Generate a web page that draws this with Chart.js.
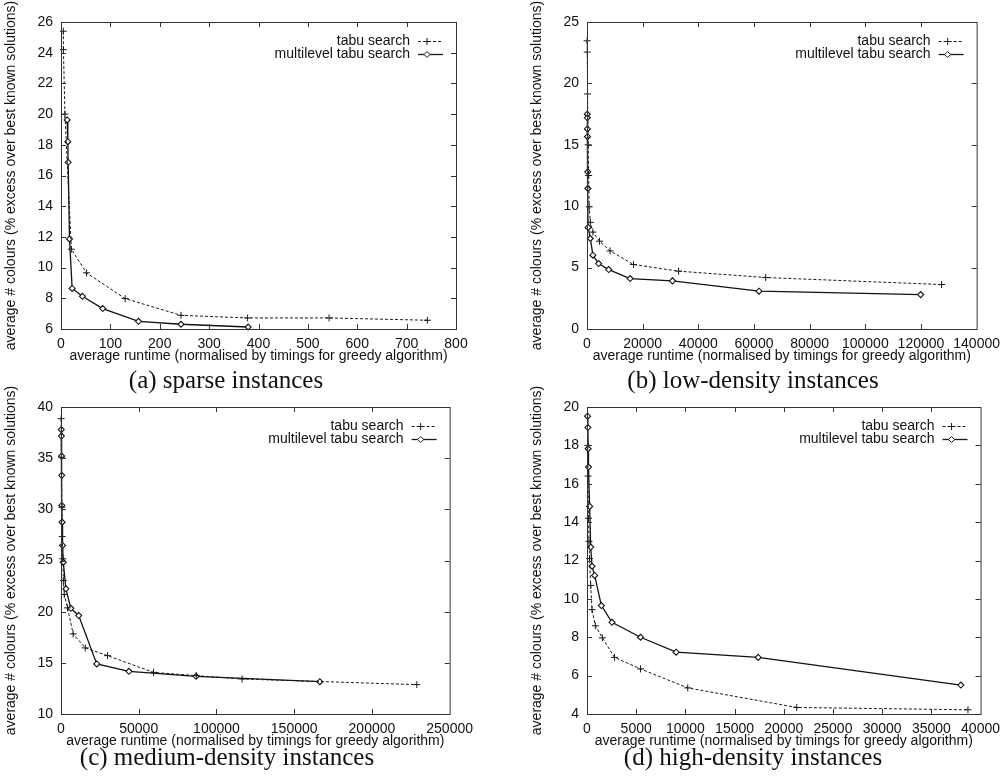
<!DOCTYPE html>
<html lang="en">
<head>
  <meta charset="utf-8">
  <title>Tabu search vs multilevel tabu search</title>
  <script src="https://cdn.jsdelivr.net/npm/chart.js"></script>
  <style>
    body { margin: 0; background: #fff; }
    #page { position: relative; width: 1007px; height: 783px; overflow: hidden; }
    .panel { position: absolute; }
    .caption {
      position: absolute; width: 400px; text-align: center;
      font-family: "Liberation Serif", serif; font-size: 25px; line-height: 25px;
      color: #111; white-space: nowrap;
    }
  </style>
</head>
<body>
<div id="page">
  <canvas id="chartA" class="panel" width="480" height="370" style="left:0;top:0"></canvas>
  <canvas id="chartB" class="panel" width="481" height="370" style="left:526px;top:0"></canvas>
  <canvas id="chartC" class="panel" width="480" height="370" style="left:0;top:385px"></canvas>
  <canvas id="chartD" class="panel" width="481" height="370" style="left:526px;top:385px"></canvas>
  <div class="caption" style="left:26px;top:367px">(a) sparse instances</div>
  <div class="caption" style="left:553px;top:367px">(b) low-density instances</div>
  <div class="caption" style="left:27px;top:744px">(c) medium-density instances</div>
  <div class="caption" style="left:553px;top:744px">(d) high-density instances</div>
</div>
<script>
  const seriesNames = ['tabu search', 'multilevel tabu search'];
  const xTitle = 'average runtime (normalised by timings for greedy algorithm)';
  const yTitle = 'average # colours (% excess over best known solutions)';

  // (a) sparse instances
  const sparseTabuX = [4.7, 4.9, 8, 21, 51.5, 130, 243, 378, 543, 742];
  const sparseTabuY = [25.4, 24.2, 20.0, 11.2, 9.66, 7.98, 6.89, 6.72, 6.72, 6.57];
  const sparseMultiX = [12.5, 13.8, 14.5, 17.2, 22.6, 43.4, 84.5, 157, 243, 379];
  const sparseMultiY = [19.62, 18.2, 16.86, 11.87, 8.64, 8.13, 7.33, 6.5, 6.31, 6.13];

  // (b) low-density instances
  const lowTabuX = [50, 100, 200, 400, 600, 800, 1200, 2130, 4500, 8300, 16700, 32900, 64200, 127400];
  const lowTabuY = [23.47, 22.55, 19.14, 15.0, 12.5, 9.95, 8.68, 7.89, 7.15, 6.36, 5.25, 4.71, 4.19, 3.62];
  const lowMultiX = [100, 130, 160, 190, 250, 320, 400, 1200, 2130, 4150, 7800, 15500, 30700, 61800, 119900];
  const lowMultiY = [17.49, 17.2, 16.29, 15.66, 12.8, 11.45, 8.27, 7.37, 6.01, 5.33, 4.84, 4.11, 3.92, 3.08, 2.8];

  // (c) medium-density instances
  const medTabuX = [100, 300, 600, 800, 1200, 1500, 2100, 4220, 7800, 15600, 29950, 59500, 87000, 116500, 228900];
  const medTabuY = [38.86, 35.1, 30.2, 27.35, 25.17, 23.04, 21.67, 20.37, 17.83, 16.46, 15.7, 14.07, 13.75, 13.42, 12.87];
  const medMultiX = [150, 250, 350, 450, 550, 700, 1000, 1460, 3160, 6330, 11400, 23000, 43700, 86900, 166500];
  const medMultiY = [37.79, 37.16, 35.2, 33.32, 30.38, 28.75, 26.47, 24.84, 22.23, 20.33, 19.62, 14.89, 14.17, 13.68, 13.16];

  // (d) high-density instances
  const highTabuX = [80, 110, 150, 200, 260, 375, 510, 850, 1560, 2800, 5440, 10240, 21320, 38720];
  const highTabuY = [18.0, 16.4, 14.2, 13.0, 12.1, 10.7, 9.44, 8.6, 7.97, 6.95, 6.35, 5.36, 4.34, 4.22];
  const highMultiX = [60, 90, 120, 150, 270, 375, 510, 780, 1460, 2540, 5440, 9060, 17400, 38000];
  const highMultiY = [19.52, 18.93, 17.83, 16.87, 14.82, 12.7, 11.7, 11.22, 9.65, 8.78, 8.0, 7.22, 6.95, 5.51];

  // axis ranges: [min, max, step]
  const sparseXRange = [0, 800, 100],   sparseYRange = [6, 26, 2];
  const lowXRange = [0, 140000, 20000], lowYRange = [0, 25, 5];
  const medXRange = [0, 250000, 50000], medYRange = [10, 40, 5];
  const highXRange = [0, 40000, 5000],  highYRange = [4, 20, 2];

  Chart.defaults.font.family = '"Liberation Sans", Arial, sans-serif';
  Chart.defaults.font.size = 14;
  Chart.defaults.color = '#111';

  const ink = '#1a1a1a';

  function pts(xs, ys) {
    return xs.map((x, i) => ({ x: x, y: ys[i] }));
  }

  function drawMarker(ctx, style, x, y) {
    ctx.beginPath();
    if (style === 'cross') {
      ctx.moveTo(x - 3.5, y); ctx.lineTo(x + 3.5, y);
      ctx.moveTo(x, y - 3.5); ctx.lineTo(x, y + 3.5);
      ctx.stroke();
    } else {
      ctx.moveTo(x, y - 3); ctx.lineTo(x + 3, y); ctx.lineTo(x, y + 3); ctx.lineTo(x - 3, y);
      ctx.closePath();
      ctx.fillStyle = '#fff';
      ctx.fill();
      ctx.stroke();
    }
  }

  // gnuplot style box, inward ticks on all sides and key inside the plot
  const framePlugin = {
    id: 'frame',
    afterDraw(chart) {
      const { ctx, chartArea: a, scales: { x, y } } = chart;
      ctx.save();
      ctx.strokeStyle = '#333';
      ctx.lineWidth = 1;
      ctx.strokeRect(a.left + 0.5, a.top + 0.5, a.right - a.left, a.bottom - a.top);
      ctx.beginPath();
      x.ticks.forEach(t => {
        if (t.value <= x.min || t.value >= x.max) return;
        const px = Math.round(x.getPixelForValue(t.value)) + 0.5;
        ctx.moveTo(px, a.bottom); ctx.lineTo(px, a.bottom - 5);
        ctx.moveTo(px, a.top); ctx.lineTo(px, a.top + 5);
      });
      y.ticks.forEach(t => {
        if (t.value <= y.min || t.value >= y.max) return;
        const py = Math.round(y.getPixelForValue(t.value)) + 0.5;
        ctx.moveTo(a.left, py); ctx.lineTo(a.left + 5, py);
        ctx.moveTo(a.right, py); ctx.lineTo(a.right - 5, py);
      });
      ctx.stroke();

      // key
      ctx.font = '14px "Liberation Sans", Arial, sans-serif';
      ctx.textAlign = 'right';
      ctx.textBaseline = 'middle';
      chart.data.datasets.forEach((ds, i) => {
        const yy = Math.round(a.top + 18.5 + i * 13.5) + 0.5;
        ctx.fillStyle = '#111';
        ctx.fillText(ds.label, a.right - 46, yy);
        ctx.strokeStyle = ink;
        ctx.lineWidth = ds.borderWidth;
        ctx.setLineDash(ds.borderDash || []);
        ctx.beginPath();
        ctx.moveTo(a.right - 38, yy);
        ctx.lineTo(a.right - 13, yy);
        ctx.stroke();
        ctx.setLineDash([]);
        ctx.lineWidth = 1;
        drawMarker(ctx, ds.pointStyle, a.right - 29, yy);
      });
      ctx.restore();
    }
  };

  function makeChart(id, tabu, multi, xr, yr) {
    return new Chart(document.getElementById(id), {
      type: 'scatter',
      data: {
        datasets: [{
          label: seriesNames[0],
          data: tabu,
          showLine: true,
          borderColor: ink,
          borderWidth: 1,
          borderDash: [3, 2],
          pointStyle: 'cross',
          pointRadius: 3.5,
          pointBorderWidth: 1,
          pointBorderColor: ink,
          clip: 6
        }, {
          label: seriesNames[1],
          data: multi,
          showLine: true,
          borderColor: '#111',
          borderWidth: 1.3,
          pointStyle: 'rectRot',
          pointRadius: 3,
          pointBorderWidth: 1.1,
          pointBorderColor: '#111',
          pointBackgroundColor: '#fff',
          clip: 6
        }]
      },
      options: {
        responsive: false,
        animation: false,
        events: [],
        layout: { padding: { left: 0, right: id === 'chartB' || id === 'chartD' ? 25 : 24, top: 22, bottom: 0 } },
        plugins: { legend: { display: false }, tooltip: { enabled: false } },
        scales: {
          x: {
            type: 'linear', min: xr[0], max: xr[1],
            grid: { display: false, drawTicks: false },
            border: { display: false },
            ticks: { stepSize: xr[2], padding: 7, autoSkip: false, maxRotation: 0, callback: v => String(v) },
            title: { display: true, text: xTitle, padding: { top: 0, bottom: 5 } },
            afterFit: s => { s.height = 41; }
          },
          y: {
            type: 'linear', min: yr[0], max: yr[1],
            grid: { display: false, drawTicks: false },
            border: { display: false },
            ticks: { stepSize: yr[2], padding: 8, autoSkip: false, callback: v => String(v) },
            title: { display: true, text: yTitle, padding: { top: 3, bottom: 0 } },
            afterFit: s => { s.width = 61; }
          }
        }
      },
      plugins: [framePlugin]
    });
  }

  makeChart('chartA', pts(sparseTabuX, sparseTabuY), pts(sparseMultiX, sparseMultiY), sparseXRange, sparseYRange);
  makeChart('chartB', pts(lowTabuX, lowTabuY), pts(lowMultiX, lowMultiY), lowXRange, lowYRange);
  makeChart('chartC', pts(medTabuX, medTabuY), pts(medMultiX, medMultiY), medXRange, medYRange);
  makeChart('chartD', pts(highTabuX, highTabuY), pts(highMultiX, highMultiY), highXRange, highYRange);
</script>
</body>
</html>
